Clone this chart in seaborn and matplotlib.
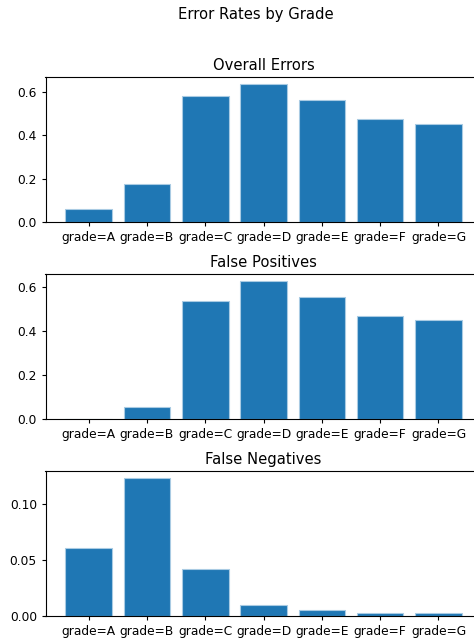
import matplotlib
matplotlib.use("Agg")
import matplotlib.pyplot as plt
import seaborn as sns

categories = ["grade=A", "grade=B", "grade=C", "grade=D", "grade=E", "grade=F", "grade=G"]
overall_errors = [0.060, 0.173, 0.581, 0.637, 0.561, 0.475, 0.452]
false_positives = [0.0, 0.053, 0.538, 0.628, 0.553, 0.470, 0.450]
false_negatives = [0.0607, 0.1228, 0.0414, 0.0101, 0.0053, 0.0024, 0.0024]

titles = ["Overall Errors", "False Positives", "False Negatives"]
series = [overall_errors, false_positives, false_negatives]

W, H = 474, 641
fig = plt.figure(figsize=(W / 100, H / 100), dpi=100)

# axes pixel boxes (top, bottom) – right edge extends past the (cropped) figure
boxes = [(77, 222), (274, 419), (471, 616)]
left_px, right_px = 45.5, 481.6

for (top, bot), title, vals in zip(boxes, titles, series):
    ax = fig.add_axes([left_px / W, 1 - bot / H, (right_px - left_px) / W, (bot - top) / H])
    sns.barplot(x=categories, y=vals, ax=ax, color="#1f77b4", saturation=1,
                width=0.8, edgecolor="#a9cbe3", linewidth=0.8)
    ax.set_xlim(-0.74, 6.74)
    ax.set_title(title, fontsize=10.6, pad=5)
    ax.set_xlabel("")
    ax.set_ylabel("")
    ax.tick_params(labelsize=8.8, length=3.2, pad=3)
    for s in ax.spines.values():
        s.set_linewidth(0.8)

fig.suptitle("Error Rates by Grade", x=256 / W, y=1 - 7 / H, va="top", fontsize=10.6)
fig.savefig("out.png", dpi=100)
